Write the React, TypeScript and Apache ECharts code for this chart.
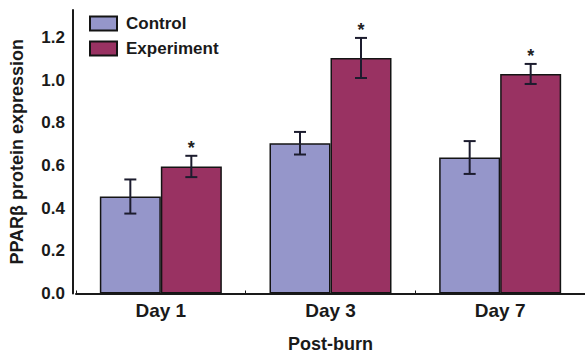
import React, { useEffect, useRef } from "react";
import * as echarts from "echarts";

const categories = ["Day 1", "Day 3", "Day 7"];
const control = [0.455, 0.705, 0.638];
const controlErr = [0.08, 0.053, 0.077];
const experiment = [0.596, 1.105, 1.03];
const experimentErr = [0.05, 0.094, 0.047];
const experimentStar = [1, 1, 1];
const yTicks = [0, 0.2, 0.4, 0.6, 0.8, 1.0, 1.2];

const FONT = "'Liberation Sans', Arial, sans-serif";
const BAR_W = 61;

function errorSeries(name: string, vals: number[], errs: number[], stars: number[] | null, offset: number) {
  return {
    type: "custom",
    name,
    z: 10,
    data: vals.map((v, i) => [i, v, errs[i], stars ? stars[i] : 0]),
    renderItem: (params: any, api: any) => {
      const x = api.value(0);
      const v = api.value(1);
      const e = api.value(2);
      const s = api.value(3);
      const top = api.coord([x, v + e]);
      const bot = api.coord([x, v - e]);
      const cx = top[0] + offset;
      const half = 6;
      const style = { stroke: "#1c1c2e", lineWidth: 2 };
      const children: any[] = [
        { type: "line", shape: { x1: cx, y1: top[1], x2: cx, y2: bot[1] }, style },
        { type: "line", shape: { x1: cx - half, y1: top[1], x2: cx + half, y2: top[1] }, style },
        { type: "line", shape: { x1: cx - half, y1: bot[1], x2: cx + half, y2: bot[1] }, style },
      ];
      if (s) {
        children.push({
          type: "text",
          style: {
            text: "*",
            x: cx,
            y: top[1] + 1,
            align: "center",
            verticalAlign: "bottom",
            fontSize: 18,
            fontWeight: "bold",
            fontFamily: FONT,
            fill: "#222",
          },
        });
      }
      return { type: "group", children };
    },
  };
}

export default function App() {
  const ref = useRef<HTMLDivElement>(null);
  useEffect(() => {
    if (!ref.current) return;
    const chart = echarts.init(ref.current, null, { renderer: "svg" });
    chart.setOption({
      animation: false,
      backgroundColor: "#ffffff",
      grid: { left: 74, right: -6, top: 10, bottom: 66.5, containLabel: false },
      legend: {
        data: ["Control", "Experiment"],
        orient: "vertical",
        left: 84,
        top: 10,
        itemGap: 8,
        itemWidth: 27,
        itemHeight: 14,
        icon: "rect",
        textStyle: { fontSize: 17, fontWeight: "bold", fontFamily: FONT, color: "#1a1a1a", padding: [0, 0, 0, 4] },
      },
      xAxis: {
        type: "category",
        data: categories,
        name: "Post-burn",
        nameLocation: "middle",
        nameGap: 41,
        nameTextStyle: { fontSize: 18, fontWeight: "bold", fontFamily: FONT, color: "#1a1a1a" },
        axisLine: { lineStyle: { color: "#1a1a1a", width: 2 } },
        axisTick: { show: true, inside: true, length: 3, lineStyle: { color: "#1a1a1a" } },
        axisLabel: { fontSize: 19, fontWeight: "bold", fontFamily: FONT, color: "#1a1a1a", margin: 7 },
      },
      yAxis: {
        type: "value",
        min: 0,
        max: 1.33,
        interval: 0.2,
        offset: 3,
        name: "PPARβ protein expression",
        nameLocation: "middle",
        nameGap: 47,
        nameTextStyle: { fontSize: 18, fontWeight: "bold", fontFamily: FONT, color: "#1a1a1a" },
        axisLine: { show: true, lineStyle: { color: "#1a1a1a", width: 2 } },
        axisTick: { show: false },
        splitLine: { show: false },
        axisLabel: {
          fontSize: 17,
          fontWeight: "bold",
          fontFamily: FONT,
          color: "#1a1a1a",
          margin: 8,
          formatter: (v: number) => {
            const t = yTicks.find((k) => Math.abs(k - v) < 1e-6);
            return t === undefined ? "" : t.toFixed(1);
          },
        },
      },
      series: [
        {
          type: "bar",
          name: "Control",
          data: control,
          barWidth: BAR_W,
          barGap: "0%",
          itemStyle: { color: "#9596ca", borderColor: "#141414", borderWidth: 1.5 },
        },
        {
          type: "bar",
          name: "Experiment",
          data: experiment,
          barWidth: BAR_W,
          barGap: "0%",
          itemStyle: { color: "#993262", borderColor: "#141414", borderWidth: 1.5 },
        },
        errorSeries("ControlErr", control, controlErr, null, -BAR_W / 2),
        errorSeries("ExperimentErr", experiment, experimentErr, experimentStar, BAR_W / 2),
      ],
    });
    return () => chart.dispose();
  }, []);
  return <div ref={ref} style={{ position: "fixed", left: 0, top: 0, width: 585, height: 360 }} />;
}
